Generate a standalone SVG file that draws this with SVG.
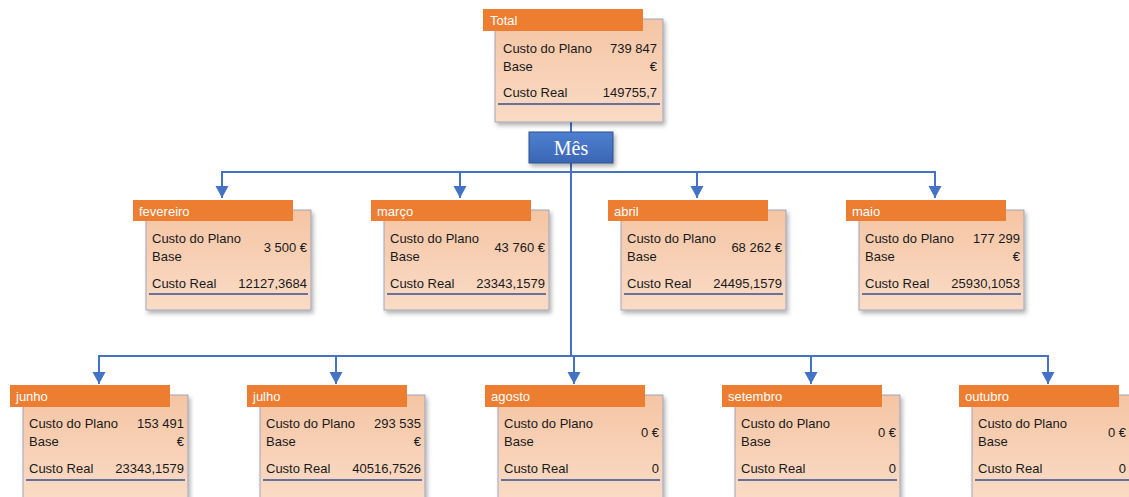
<svg xmlns="http://www.w3.org/2000/svg" width="1129" height="497" viewBox="0 0 1129 497">
  <defs>
    <linearGradient id="cardFill" x1="0" y1="0" x2="0" y2="1">
      <stop offset="0" stop-color="#F5C5A4"/>
      <stop offset="1" stop-color="#FADBC6"/>
    </linearGradient>
    <linearGradient id="blueFill" x1="0" y1="0" x2="0" y2="1">
      <stop offset="0" stop-color="#4F7FD0"/>
      <stop offset="1" stop-color="#3A66B4"/>
    </linearGradient>
    <filter id="shadow" x="-10%" y="-10%" width="125%" height="130%">
      <feDropShadow dx="2" dy="3" stdDeviation="2" flood-color="#000" flood-opacity="0.3"/>
    </filter>
    <marker id="arrow" markerUnits="userSpaceOnUse" markerWidth="14" markerHeight="14" refX="12" refY="6.5" orient="auto">
      <path d="M0,0 L12,6.5 L0,13 Z" fill="#4472C4"/>
    </marker>
  </defs>
  <style>
    .card { fill: url(#cardFill); stroke: #8C9AB3; stroke-width: 0.8; filter: url(#shadow); }
    .head { fill: #ED7D31; }
    .head-t { font-family: "Liberation Sans", Arial, sans-serif; font-size: 13px; fill: #FFFFFF; }
    .t { font-family: "Liberation Sans", Arial, sans-serif; font-size: 13px; fill: #1A1A1A; }
    .v { font-family: "Liberation Sans", Arial, sans-serif; font-size: 13px; fill: #1A1A1A; text-anchor: end; }
    .rule { stroke: #3A4F8C; stroke-width: 1.3; }
    .link { fill: none; stroke: #4472C4; stroke-width: 2; }
    .arr { marker-end: url(#arrow); }
    .key { fill: url(#blueFill); stroke: #2F528F; stroke-width: 1; filter: url(#shadow); }
    .key-t { font-family: "Liberation Serif", "Times New Roman", serif; font-size: 20px; fill: #FFFFFF; text-anchor: middle; }
  </style>

  <!-- connectors -->
  <g id="connectors">
    <path class="link" d="M571,122 V356"/>
    <path class="link" d="M222,172 H935"/>
    <path class="link arr" d="M222,171 V198"/>
    <path class="link arr" d="M460,171 V198"/>
    <path class="link arr" d="M697,171 V198"/>
    <path class="link arr" d="M935,171 V198"/>
    <path class="link" d="M99,356 H1048"/>
    <path class="link arr" d="M99,355 V384"/>
    <path class="link arr" d="M336,355 V384"/>
    <path class="link arr" d="M574,355 V384"/>
    <path class="link arr" d="M811,355 V384"/>
    <path class="link arr" d="M1048,355 V384"/>
  </g>

  <!-- root -->
  <g id="node-total">
    <rect class="card" x="495" y="19" width="168" height="103"/>
    <rect class="head" x="483" y="9" width="160" height="22"/>
    <text class="head-t" x="490" y="25">Total</text>
    <text class="t" x="503" y="53">Custo do Plano</text>
    <text class="t" x="503" y="71">Base</text>
    <text class="v" x="657" y="53">739 847</text>
    <text class="v" x="657" y="71">€</text>
    <text class="t" x="503" y="97">Custo Real</text>
    <text class="v" x="657" y="97">149755,7</text>
    <line class="rule" x1="498" y1="104" x2="660" y2="104"/>
  </g>

  <!-- category key -->
  <g id="node-mes">
    <rect class="key" x="529" y="132" width="84" height="31"/>
    <text class="key-t" x="571" y="155">Mês</text>
  </g>

  <!-- first row -->
  <g id="node-fevereiro">
    <rect class="card" x="146" y="210" width="165" height="100"/>
    <rect class="head" x="133" y="200" width="160" height="21"/>
    <text class="head-t" x="139" y="216">fevereiro</text>
    <text class="t" x="152" y="243">Custo do Plano</text>
    <text class="t" x="152" y="261">Base</text>
    <text class="v" x="307" y="252">3 500 €</text>
    <text class="t" x="152" y="288">Custo Real</text>
    <text class="v" x="307" y="288">12127,3684</text>
    <line class="rule" x1="149" y1="294" x2="308" y2="294"/>
  </g>

  <g id="node-marco">
    <rect class="card" x="384" y="210" width="165" height="100"/>
    <rect class="head" x="371" y="200" width="160" height="21"/>
    <text class="head-t" x="377" y="216">março</text>
    <text class="t" x="390" y="243">Custo do Plano</text>
    <text class="t" x="390" y="261">Base</text>
    <text class="v" x="545" y="252">43 760 €</text>
    <text class="t" x="390" y="288">Custo Real</text>
    <text class="v" x="545" y="288">23343,1579</text>
    <line class="rule" x1="387" y1="294" x2="546" y2="294"/>
  </g>

  <g id="node-abril">
    <rect class="card" x="621" y="210" width="165" height="100"/>
    <rect class="head" x="608" y="200" width="160" height="21"/>
    <text class="head-t" x="614" y="216">abril</text>
    <text class="t" x="627" y="243">Custo do Plano</text>
    <text class="t" x="627" y="261">Base</text>
    <text class="v" x="782" y="252">68 262 €</text>
    <text class="t" x="627" y="288">Custo Real</text>
    <text class="v" x="782" y="288">24495,1579</text>
    <line class="rule" x1="624" y1="294" x2="783" y2="294"/>
  </g>

  <g id="node-maio">
    <rect class="card" x="859" y="210" width="165" height="100"/>
    <rect class="head" x="846" y="200" width="160" height="21"/>
    <text class="head-t" x="852" y="216">maio</text>
    <text class="t" x="865" y="243">Custo do Plano</text>
    <text class="t" x="865" y="261">Base</text>
    <text class="v" x="1020" y="243">177 299</text>
    <text class="v" x="1020" y="261">€</text>
    <text class="t" x="865" y="288">Custo Real</text>
    <text class="v" x="1020" y="288">25930,1053</text>
    <line class="rule" x1="862" y1="294" x2="1021" y2="294"/>
  </g>

  <!-- second row -->
  <g id="node-junho">
    <rect class="card" x="23" y="395" width="165" height="104"/>
    <rect class="head" x="10" y="385" width="160" height="22"/>
    <text class="head-t" x="16" y="401">junho</text>
    <text class="t" x="29" y="428">Custo do Plano</text>
    <text class="t" x="29" y="446">Base</text>
    <text class="v" x="184" y="428">153 491</text>
    <text class="v" x="184" y="446">€</text>
    <text class="t" x="29" y="473">Custo Real</text>
    <text class="v" x="184" y="473">23343,1579</text>
    <line class="rule" x1="26" y1="480" x2="185" y2="480"/>
  </g>

  <g id="node-julho">
    <rect class="card" x="260" y="395" width="165" height="104"/>
    <rect class="head" x="247" y="385" width="160" height="22"/>
    <text class="head-t" x="253" y="401">julho</text>
    <text class="t" x="266" y="428">Custo do Plano</text>
    <text class="t" x="266" y="446">Base</text>
    <text class="v" x="421" y="428">293 535</text>
    <text class="v" x="421" y="446">€</text>
    <text class="t" x="266" y="473">Custo Real</text>
    <text class="v" x="421" y="473">40516,7526</text>
    <line class="rule" x1="263" y1="480" x2="422" y2="480"/>
  </g>

  <g id="node-agosto">
    <rect class="card" x="498" y="395" width="165" height="104"/>
    <rect class="head" x="485" y="385" width="160" height="22"/>
    <text class="head-t" x="491" y="401">agosto</text>
    <text class="t" x="504" y="428">Custo do Plano</text>
    <text class="t" x="504" y="446">Base</text>
    <text class="v" x="659" y="437">0 €</text>
    <text class="t" x="504" y="473">Custo Real</text>
    <text class="v" x="659" y="473">0</text>
    <line class="rule" x1="501" y1="480" x2="660" y2="480"/>
  </g>

  <g id="node-setembro">
    <rect class="card" x="735" y="395" width="165" height="104"/>
    <rect class="head" x="722" y="385" width="160" height="22"/>
    <text class="head-t" x="728" y="401">setembro</text>
    <text class="t" x="741" y="428">Custo do Plano</text>
    <text class="t" x="741" y="446">Base</text>
    <text class="v" x="896" y="437">0 €</text>
    <text class="t" x="741" y="473">Custo Real</text>
    <text class="v" x="896" y="473">0</text>
    <line class="rule" x1="738" y1="480" x2="897" y2="480"/>
  </g>

  <!-- last card runs past the right edge; its values are kept inside the frame -->
  <g id="node-outubro">
    <rect class="card" x="972" y="395" width="165" height="104"/>
    <rect class="head" x="959" y="385" width="160" height="22"/>
    <text class="head-t" x="965" y="401">outubro</text>
    <text class="t" x="978" y="428">Custo do Plano</text>
    <text class="t" x="978" y="446">Base</text>
    <text class="v" x="1126" y="437">0 €</text>
    <text class="t" x="978" y="473">Custo Real</text>
    <text class="v" x="1126" y="473">0</text>
    <line class="rule" x1="975" y1="480" x2="1134" y2="480"/>
  </g>
</svg>
